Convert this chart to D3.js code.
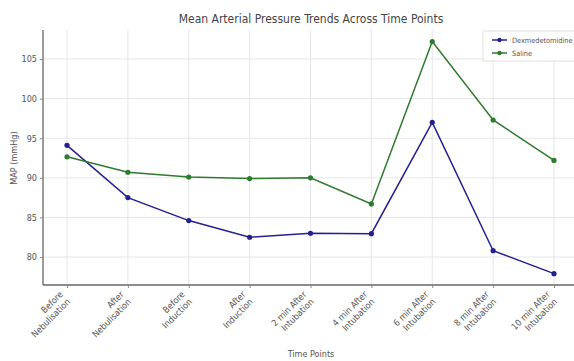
<!DOCTYPE html>
<html><head><meta charset="utf-8">
<script src="https://cdn.jsdelivr.net/npm/d3@7"></script>
<style>body{margin:0;background:#fff}svg{display:block}</style>
</head><body>
<script>
const categories = [["Before","Nebulisation"],["After","Nebulisation"],["Before","Induction"],["After","Induction"],["2 min After","Intubation"],["4 min After","Intubation"],["6 min After","Intubation"],["8 min After","Intubation"],["10 min After","Intubation"]];
const dexValues = [94.1, 87.5, 84.6, 82.5, 83.0, 82.95, 97.0, 80.8, 77.9];
const salineValues = [92.65, 90.7, 90.1, 89.9, 90.0, 86.7, 107.2, 97.3, 92.2];
const yTicks = [80, 85, 90, 95, 100, 105];
const seriesNames = ["Dexmedetomidine", "Saline"];
const seriesColors = ["#24208c", "#2e7a2e"];

const W = 574, H = 361;
const svg = d3.select("body").append("svg").attr("width", W).attr("height", H);
const pLeft = 43, pRight = 578, pTop = 30, pBottom = 285;
const keys = categories.map((c,i)=>i);
const x = d3.scalePoint().domain(keys).range([67, 554]);
const y = d3.scaleLinear().domain([76.47, 108.66]).range([pBottom, pTop]);

// grid
svg.append("g").selectAll("line").data(yTicks).join("line")
  .attr("x1", pLeft).attr("x2", pRight).attr("y1", d=>y(d)).attr("y2", d=>y(d))
  .attr("stroke", "#e6e6e6").attr("stroke-width", 1);
svg.append("g").selectAll("line").data(keys).join("line")
  .attr("x1", d=>x(d)).attr("x2", d=>x(d)).attr("y1", pTop).attr("y2", pBottom)
  .attr("stroke", "#e6e6e6").attr("stroke-width", 1);

// axes
const font = "'DejaVu Sans Condensed', 'DejaVu Sans', sans-serif";
const yAxis = svg.append("g").attr("transform", `translate(${pLeft},0)`)
  .call(d3.axisLeft(y).tickValues(yTicks).tickSize(3).tickPadding(3));
yAxis.select(".domain").attr("stroke", "#666").attr("stroke-width", 1.3).attr("d", `M0,${pTop}V${pBottom}`);
yAxis.selectAll(".tick line").attr("stroke", "#888");
yAxis.selectAll("text").attr("font-family", font).attr("font-size", 9).attr("fill", "#555");

const xAxis = svg.append("g").attr("transform", `translate(0,${pBottom})`)
  .call(d3.axisBottom(x).tickSize(3).tickFormat(""));
xAxis.select(".domain").attr("stroke", "#666").attr("stroke-width", 1.3).attr("d", `M${pLeft},0H${pRight}`);
xAxis.selectAll(".tick line").attr("stroke", "#888");
xAxis.selectAll(".tick").each(function(d){
  const t = d3.select(this).append("text")
    .attr("transform", "translate(-4,10) rotate(-45)")
    .attr("text-anchor", "end").attr("font-family", font).attr("font-size", 9).attr("fill", "#555");
  categories[d].forEach((s,j)=>{
    t.append("tspan").attr("x", 0).attr("dy", j===0 ? "0em" : "1.15em").text(s);
  });
});

// lines
[dexValues, salineValues].forEach((vals, si)=>{
  const line = d3.line().x((d,i)=>x(i)).y(d=>y(d));
  svg.append("path").datum(vals).attr("d", line)
    .attr("fill", "none").attr("stroke", seriesColors[si]).attr("stroke-width", 1.5);
  svg.append("g").selectAll("circle").data(vals).join("circle")
    .attr("cx", (d,i)=>x(i)).attr("cy", d=>y(d)).attr("r", 2.6).attr("fill", seriesColors[si]);
});

// title and labels
svg.append("text").attr("x", 311).attr("y", 23).attr("text-anchor", "middle")
  .attr("font-family", font).attr("font-size", 12).attr("fill", "#444")
  .text("Mean Arterial Pressure Trends Across Time Points");
svg.append("text").attr("transform", "translate(17,158) rotate(-90)").attr("text-anchor", "middle")
  .attr("font-family", font).attr("font-size", 9).attr("fill", "#555").text("MAP (mmHg)");
svg.append("text").attr("x", 311).attr("y", 357).attr("text-anchor", "middle")
  .attr("font-family", font).attr("font-size", 9).attr("fill", "#555").text("Time Points");

// legend
const lg = svg.append("g");
lg.append("rect").attr("x", 483).attr("y", 31).attr("width", 95).attr("height", 30)
  .attr("fill", "#fff").attr("stroke", "#e0e0e0");
seriesNames.forEach((n, i)=>{
  const yy = 40 + i*13;
  lg.append("line").attr("x1", 492).attr("x2", 507).attr("y1", yy).attr("y2", yy)
    .attr("stroke", seriesColors[i]).attr("stroke-width", 1.5);
  lg.append("circle").attr("cx", 499.5).attr("cy", yy).attr("r", 2.2).attr("fill", seriesColors[i]);
  lg.append("text").attr("x", 512).attr("y", yy + 3).attr("font-family", font).attr("font-size", 7.3)
    .attr("fill", "#555").text(n);
});
</script>
</body></html>
